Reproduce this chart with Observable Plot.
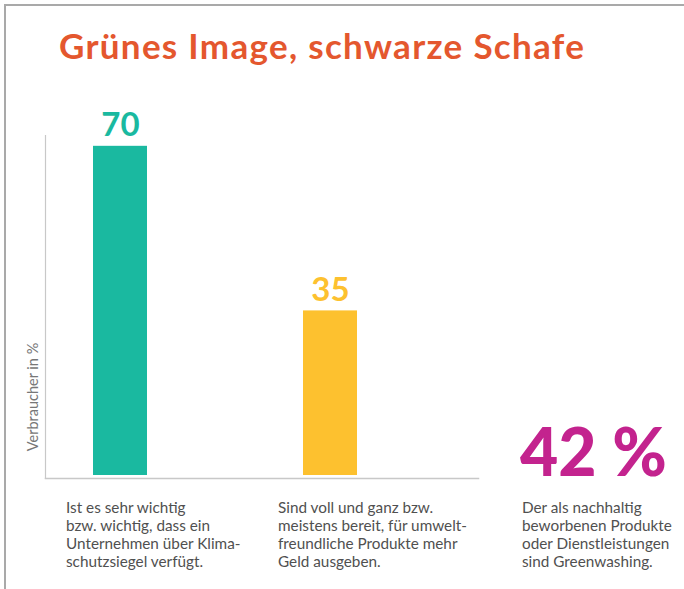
<!DOCTYPE html>
<html>
<head>
<meta charset="utf-8">
<script src="https://cdn.jsdelivr.net/npm/d3@7"></script>
<script src="https://cdn.jsdelivr.net/npm/@observablehq/plot@0.6"></script>
<style>
  html, body { margin: 0; padding: 0; background: #fff; }
  #wrap { position: relative; width: 684px; height: 589px; overflow: hidden; font-family: Lato, "Open Sans", sans-serif; }
  #border { position: absolute; left: 4px; top: 4px; right: -10px; bottom: -10px; border-top: 2px solid #a9a9a9; border-left: 2px solid #a9a9a9; pointer-events: none; }
  #title { position: absolute; left: 59px; top: 24px; font-size: 35px; font-weight: 700; color: #e4572e; letter-spacing: 1.3px; white-space: nowrap; }
  .note { position: absolute; top: 498px; font-size: 15.3px; line-height: 18px; color: #505050; white-space: nowrap; }
  #ylab { position: absolute; left: 32px; top: 397px; transform: translate(-50%, -50%) rotate(-90deg); font-size: 14.5px; color: #777; white-space: nowrap; }
  #big { position: absolute; left: 520px; top: 414px; font-size: 66px; font-weight: 900; color: #c3238e; white-space: nowrap; line-height: 74px; }
  svg { position: absolute; left: 0; top: 0; }
</style>
</head>
<body>
<div id="wrap">
  <div id="chart"></div>
  <div id="border"></div>
  <div id="title"></div>
  <div id="ylab"></div>
  <div id="big"></div>
  <div class="note" id="n1"></div>
  <div class="note" id="n2"></div>
  <div class="note" id="n3"></div>
</div>
<script>
const titleText = "Grünes Image, schwarze Schafe";
const yLabel = "Verbraucher in %";
const categories = ["Klimaschutzsiegel", "Mehr Geld"];
const values = [70, 35];
const barColors = ["#1ab9a0", "#fdc12f"];
const highlightValue = "42 %";
const notes = [
  ["Ist es sehr wichtig", "bzw. wichtig, dass ein", "Unternehmen über Klima-", "schutzsiegel verfügt."],
  ["Sind voll und ganz bzw.", "meistens bereit, für umwelt-", "freundliche Produkte mehr", "Geld ausgeben."],
  ["Der als nachhaltig", "beworbenen Produkte", "oder Dienstleistungen", "sind Greenwashing."]
];
const noteX = [66, 278, 522];

const data = categories.map((c, i) => ({category: c, value: values[i], color: barColors[i]}));

const chart = Plot.plot({
  width: 684,
  height: 589,
  marginLeft: 45,
  marginRight: 206,
  marginTop: 135,
  marginBottom: 111,
  style: {fontFamily: "Lato, 'Open Sans', sans-serif", background: "transparent"},
  x: {domain: categories, range: [93, 357], paddingInner: 0.743, paddingOuter: 0, axis: null},
  y: {domain: [0, 72.3], range: [475, 135], axis: null},
  marks: [
    Plot.frame({anchor: "left", stroke: "#c8c8c8", strokeWidth: 1.2}),
    Plot.frame({anchor: "bottom", stroke: "#c8c8c8", strokeWidth: 1.5}),
    Plot.barY(data, {x: "category", y: "value", fill: "color"}),
    Plot.text(data, {x: "category", y: "value", text: d => String(d.value), fill: "color",
      fontSize: 33, fontWeight: 700, lineAnchor: "bottom", dy: -10})
  ]
});
document.getElementById("chart").appendChild(chart);

document.getElementById("title").textContent = titleText;
document.getElementById("ylab").textContent = yLabel;
document.getElementById("big").textContent = highlightValue;
notes.forEach((lines, i) => {
  const el = document.getElementById("n" + (i + 1));
  el.style.left = noteX[i] + "px";
  el.innerHTML = lines.map(l => l.replace(/&/g, "&amp;").replace(/</g, "&lt;")).join("<br>");
});
</script>
</body>
</html>
